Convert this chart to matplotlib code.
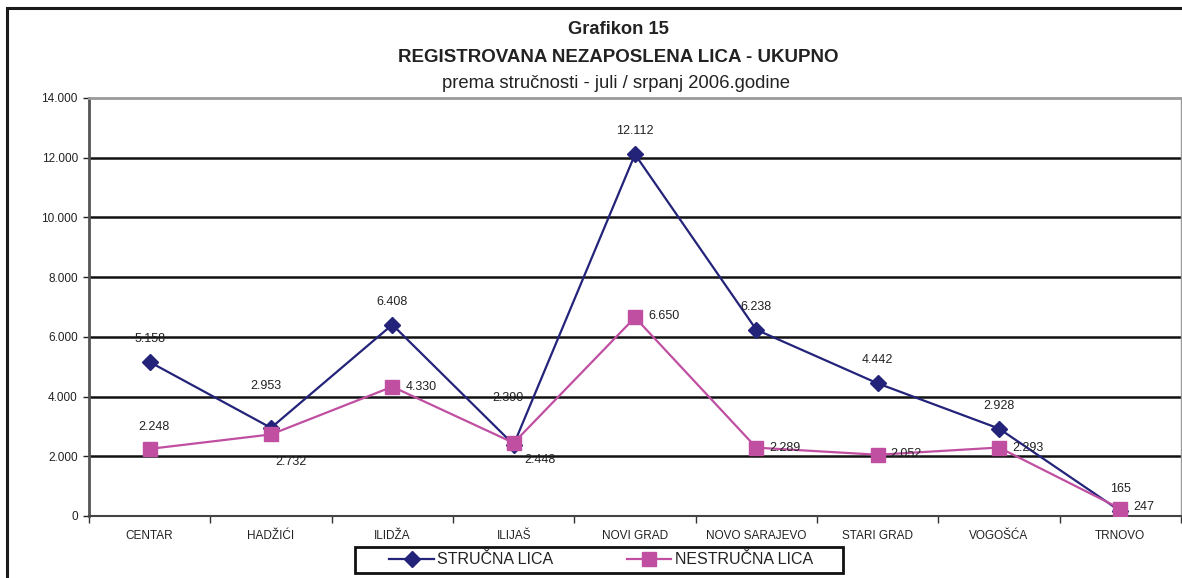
import matplotlib
matplotlib.use("Agg")
import matplotlib.pyplot as plt
from matplotlib.patches import Rectangle
from matplotlib.ticker import FuncFormatter, MultipleLocator
import numpy as np

plt.rcParams['font.family'] = ['Liberation Sans', 'DejaVu Sans']

categories = ['CENTAR', 'HADŽIĆI', 'ILIDŽA', 'ILIJAŠ', 'NOVI GRAD',
              'NOVO SARAJEVO', 'STARI GRAD', 'VOGOŠĆA', 'TRNOVO']
strucna = [5158, 2953, 6408, 2390, 12112, 6238, 4442, 2928, 165]
nestrucna = [2248, 2732, 4330, 2448, 6650, 2289, 2052, 2293, 247]

NAVY = '#23237a'
PINK = '#c04fa2'
TXT = '#222222'

def fmt(v):
    return f'{int(v):,}'.replace(',', '.')

fig = plt.figure(figsize=(11.82, 5.78), dpi=100)
W, H = 1182, 578
ax = fig.add_axes([89 / W, (H - 516) / H, (1181 - 89) / W, (516 - 98) / H])

x = np.arange(len(categories))
ax.plot(x, strucna, color=NAVY, lw=1.6, marker='D', ms=8, mfc=NAVY, mec=NAVY,
        label='STRUČNA LICA', zorder=4)
ax.plot(x, nestrucna, color=PINK, lw=1.6, marker='s', ms=10, mfc=PINK, mec=PINK,
        label='NESTRUČNA LICA', zorder=5)

# label offsets in pixels (dx, dy, ha)
off_s = [(0, 23, 'center'), (-5, 42, 'center'), (0, 23, 'center'), (-6, 47, 'center'),
         (0, 23, 'center'), (0, 23, 'center'), (0, 23, 'center'), (0, 23, 'center'),
         (0, 22, 'center')]
off_n = [(4, 22, 'center'), (20, -28, 'center'), (13, 0, 'left'), (26, -17, 'center'),
         (13, 1, 'left'), (13, 0, 'left'), (13, 1, 'left'), (13, 0, 'left'),
         (13, 2, 'left')]
for i, v in enumerate(strucna):
    dx, dy, ha = off_s[i]
    ax.annotate(fmt(v), (x[i], v), xytext=(dx, dy), textcoords='offset pixels',
                ha=ha, va='center', fontsize=9, color=TXT, zorder=6)
for i, v in enumerate(nestrucna):
    dx, dy, ha = off_n[i]
    ax.annotate(fmt(v), (x[i], v), xytext=(dx, dy), textcoords='offset pixels',
                ha=ha, va='center', fontsize=9, color=TXT, zorder=6)

ax.set_xlim(-0.5, len(categories) - 0.5)
ax.set_ylim(0, 14000)
ax.yaxis.set_major_locator(MultipleLocator(2000))
ax.yaxis.set_major_formatter(FuncFormatter(lambda v, p: fmt(v)))
ax.set_xticks(x)
ax.set_xticklabels(categories)
ax.set_xticks(np.arange(-0.5, len(categories), 1), minor=True)
ax.tick_params(axis='x', which='major', length=0, pad=10, labelsize=8.5, colors=TXT)
ax.tick_params(axis='x', which='minor', length=5, width=1, color='#333333')
ax.tick_params(axis='y', length=4, width=1, pad=4, labelsize=8.5, colors=TXT)

for yv in range(2000, 14000, 2000):
    ax.axhline(yv, color='#111111', lw=1.8, zorder=1)

ax.spines['top'].set_color('#9a9a9a')
ax.spines['top'].set_linewidth(2)
ax.spines['right'].set_color('#9a9a9a')
ax.spines['right'].set_linewidth(1)
ax.spines['left'].set_color('#555555')
ax.spines['left'].set_linewidth(2)
ax.spines['bottom'].set_color('#444444')
ax.spines['bottom'].set_linewidth(1.5)

fig.text(618 / W, 1 - 30 / H, 'Grafikon 15', ha='center', va='center',
         fontsize=13.2, fontweight='bold', color=TXT)
fig.text(618 / W, 1 - 58 / H, 'REGISTROVANA NEZAPOSLENA LICA - UKUPNO', ha='center',
         va='center', fontsize=13.5, fontweight='bold', color=TXT)
fig.text(616 / W, 1 - 84 / H, 'prema stručnosti - juli / srpanj 2006.godine',
         ha='center', va='center', fontsize=13.3, color=TXT)

leg = fig.legend(loc='center', bbox_to_anchor=(601 / W, 1 - 560 / H), ncol=2,
                 fontsize=11.5, frameon=False,
                 handlelength=2.8, handletextpad=0.2, columnspacing=4.6,
                 borderpad=0.1, markerscale=1.0)
for t in leg.get_texts():
    t.set_color(TXT)

# legend box
fig.patches.append(Rectangle((355 / W, 1 - 573 / H), (843 - 355) / W, 26 / H,
                             transform=fig.transFigure, fill=False,
                             edgecolor='#111111', lw=2))

# outer chart border
fig.patches.append(Rectangle((7 / W, -0.1), 1.2, (H - 8) / H + 0.1,
                             transform=fig.transFigure, fill=False,
                             edgecolor='#1a1a1a', lw=2.2))

fig.savefig('out.png', dpi=100)
